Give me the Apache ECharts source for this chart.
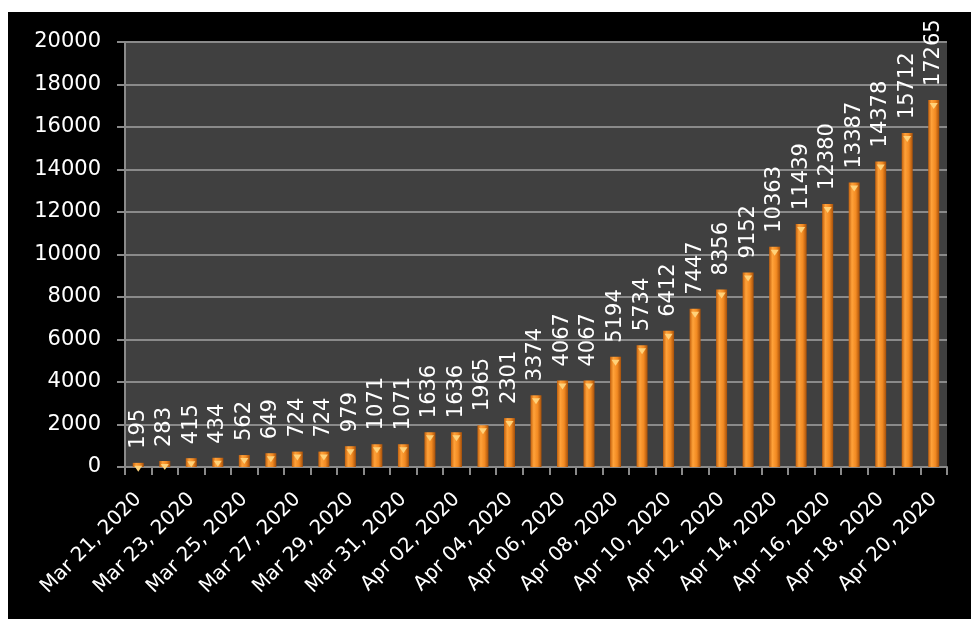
<!DOCTYPE html>
<html>
<head>
<meta charset="utf-8">
<script src="https://cdn.jsdelivr.net/npm/echarts@6/dist/echarts.min.js"></script>
<style>
  html, body { margin: 0; padding: 0; background: #ffffff; width: 971px; height: 619px; overflow: hidden; }
  #chart { position: absolute; left: 8px; top: 12px; width: 963px; height: 607px; background: #000000; }
</style>
</head>
<body>
<div id="chart"></div>
<script>
const categories = [
  'Mar 21, 2020','Mar 22, 2020','Mar 23, 2020','Mar 24, 2020','Mar 25, 2020','Mar 26, 2020',
  'Mar 27, 2020','Mar 28, 2020','Mar 29, 2020','Mar 30, 2020','Mar 31, 2020',
  'Apr 01, 2020','Apr 02, 2020','Apr 03, 2020','Apr 04, 2020','Apr 05, 2020','Apr 06, 2020',
  'Apr 07, 2020','Apr 08, 2020','Apr 09, 2020','Apr 10, 2020','Apr 11, 2020','Apr 12, 2020',
  'Apr 13, 2020','Apr 14, 2020','Apr 15, 2020','Apr 16, 2020','Apr 17, 2020','Apr 18, 2020',
  'Apr 19, 2020','Apr 20, 2020'
];
const values = [
  195, 283, 415, 434, 562, 649, 724, 724, 979, 1071, 1071,
  1636, 1636, 1965, 2301, 3374, 4067, 4067, 5194, 5734, 6412,
  7447, 8356, 9152, 10363, 11439, 12380, 13387, 14378, 15712, 17265
];
const yMin = 0, yMax = 20000, yStep = 2000;

const FONT = 'DejaVu Sans';
const chart = echarts.init(document.getElementById('chart'), null, { renderer: 'canvas' });
chart.setOption({
  animation: false,
  backgroundColor: '#000000',
  grid: {
    left: 117, top: 30, width: 822, height: 425,
    show: true, backgroundColor: '#404040', borderWidth: 0
  },
  xAxis: {
    type: 'category',
    data: categories,
    boundaryGap: true,
    axisLine: { show: true, lineStyle: { color: '#8a8a8a', width: 2 } },
    axisTick: { show: true, interval: 0, length: 8, lineStyle: { color: '#8a8a8a', width: 2 } },
    axisLabel: {
      interval: 1, rotate: 45, margin: 29,
      color: '#ffffff', fontFamily: FONT, fontSize: 20
    },
    splitLine: { show: false }
  },
  yAxis: {
    type: 'value',
    min: yMin, max: yMax, interval: yStep,
    axisLine: { show: true, lineStyle: { color: '#8a8a8a', width: 2 } },
    axisTick: { show: true, length: 8, lineStyle: { color: '#8a8a8a', width: 2 } },
    axisLabel: { color: '#ffffff', fontFamily: FONT, fontSize: 21, margin: 24, formatter: v => String(v) },
    splitLine: { show: true, lineStyle: { color: '#8a8a8a', width: 2 } }
  },
  series: [
    {
      type: 'bar',
      data: values,
      barWidth: 11,
      itemStyle: {
        color: new echarts.graphic.LinearGradient(0, 0, 1, 0, [
          { offset: 0, color: '#c2600d' },
          { offset: 0.3, color: '#ffa23a' },
          { offset: 0.65, color: '#f28a22' },
          { offset: 1, color: '#a6500a' }
        ])
      },
      label: {
        show: true, position: 'top', rotate: 90, align: 'left', verticalAlign: 'middle',
        distance: 14, color: '#ffffff', fontFamily: FONT, fontSize: 21
      },
      z: 2
    },
    {
      type: 'pictorialBar',
      data: values,
      symbol: 'triangle',
      symbolRotate: 180,
      symbolSize: [8, 6],
      symbolPosition: 'end',
      symbolOffset: [0, 3],
      itemStyle: { color: '#ffd27a' },
      z: 3,
      silent: true
    }
  ]
});
</script>
</body>
</html>
